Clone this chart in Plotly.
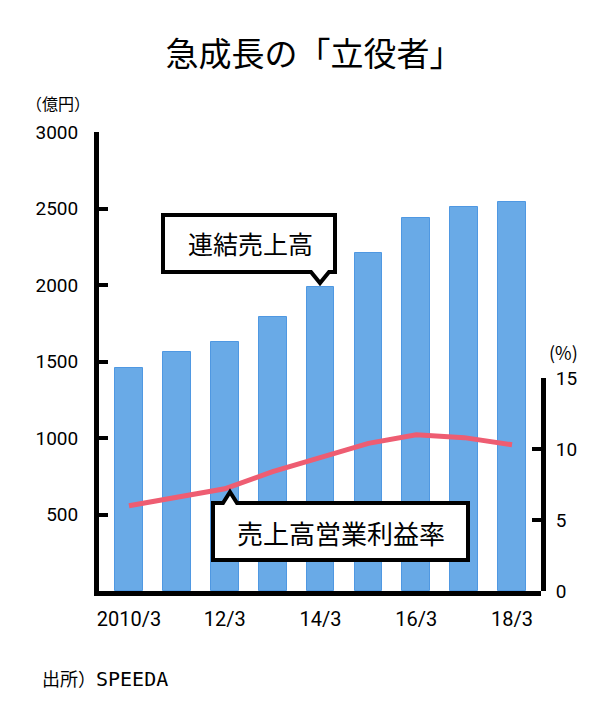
import plotly.graph_objects as go

categories = ["2010/3", "11/3", "12/3", "13/3", "14/3", "15/3", "16/3", "17/3", "18/3"]
tick_labels = ["2010/3", "", "12/3", "", "14/3", "", "16/3", "", "18/3"]
sales = [1460, 1560, 1630, 1790, 1990, 2210, 2440, 2510, 2540]
margin_pct = [6.0, 6.6, 7.2, 8.4, 9.4, 10.4, 11.0, 10.8, 10.3]
left_ticks = [500, 1000, 1500, 2000, 2500, 3000]
right_ticks = [0, 5, 10, 15]

W, H = 600, 711
L, R, T, B = 99, 541, 132, 591

def px(x):
    return (x - L) / (R - L)

def py(y):
    return (B - y) / (B - T)

xs = list(range(len(categories)))
NUM_FONT = "Roboto"
JP_FONT = "Noto Sans CJK JP"

fig = go.Figure()
fig.add_trace(go.Bar(
    x=xs, y=sales, width=0.58,
    marker=dict(color="#69aae7", line=dict(color="#4f98e2", width=1)),
    xaxis="x", yaxis="y", showlegend=False,
))
fig.add_trace(go.Scatter(
    x=xs, y=margin_pct, mode="lines",
    line=dict(color="#ee5d72", width=5),
    xaxis="x", yaxis="y2", showlegend=False,
))

shapes = []
def bubble(points):
    path = "M " + " L ".join(f"{px(a):.5f},{py(b):.5f}" for a, b in points) + " Z"
    shapes.append(dict(type="path", xref="paper", yref="paper", path=path,
                       fillcolor="white", line=dict(color="black", width=4), layer="above"))

bubble([(163, 215), (335, 215), (335, 272), (329, 272), (320, 283), (311, 272), (163, 272)])
bubble([(213, 503), (223, 503), (230, 492), (237, 503), (468, 503), (468, 560), (213, 560)])

def note(text, x, y, size, xanchor="center", family=JP_FONT):
    return dict(text=text, x=px(x), y=py(y), xref="paper", yref="paper",
                xanchor=xanchor, yanchor="middle", showarrow=False,
                font=dict(family=family, size=size, color="black"))

annotations = [
    note("連結売上高", 250, 243, 25),
    note("売上高営業利益率", 341, 532, 26),
    note("（億円）", 58, 103, 16),
    note("(%)", 563, 352, 18),
    note("出所）<span style='font-family:DejaVu Sans Mono;font-size:20px'>SPEEDA</span>", 40, 678, 18, xanchor="left"),
]

fig.update_layout(
    width=W, height=H,
    margin=dict(l=L, r=W - R, t=T, b=H - B),
    paper_bgcolor="white", plot_bgcolor="rgba(0,0,0,0)",
    bargap=0,
    title=dict(text="急成長の「立役者」", x=314 / W, y=1 - 54 / H, xref="container", yref="container",
               xanchor="center", yanchor="middle",
               font=dict(family=JP_FONT, size=33, color="black")),
    xaxis=dict(
        range=[-0.626, 8.605], tickmode="array", tickvals=xs, ticktext=tick_labels,
        showgrid=False, zeroline=False, showline=True, linecolor="black", linewidth=5,
        ticks="", tickfont=dict(family=NUM_FONT, size=20, color="black"),
        ticklabelstandoff=6, anchor="y",
    ),
    yaxis=dict(
        range=[0, 3000], tickmode="array", tickvals=left_ticks, domain=[0, 1],
        showgrid=False, zeroline=False, showline=True, linecolor="black", linewidth=5,
        ticks="inside", ticklen=9, tickwidth=4, tickcolor="black",
        tickfont=dict(family=NUM_FONT, size=19, color="black"),
        ticklabelstandoff=12, anchor="x",
    ),
    yaxis2=dict(
        side="right", anchor="x", domain=[0, (B - 378) / (B - T)],
        range=[0, 15], tickmode="array", tickvals=right_ticks,
        showgrid=False, zeroline=False, showline=True, linecolor="black", linewidth=5,
        ticks="inside", ticklen=9, tickwidth=4, tickcolor="black",
        tickfont=dict(family=NUM_FONT, size=19, color="black"),
        ticklabelstandoff=6,
    ),
    shapes=shapes,
    annotations=annotations,
)

fig.write_html("out.html")
